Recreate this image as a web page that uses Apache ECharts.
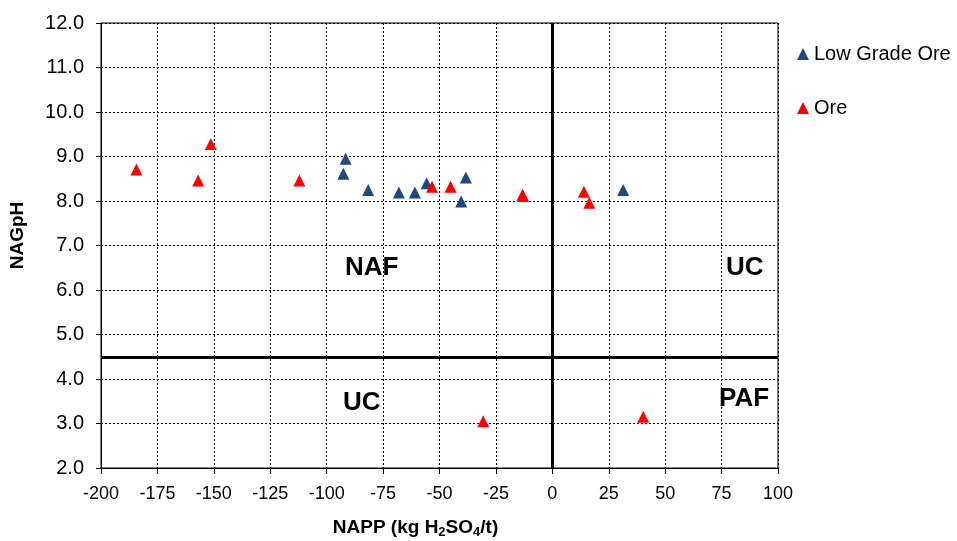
<!DOCTYPE html>
<html>
<head>
<meta charset="utf-8">
<script src="https://cdn.jsdelivr.net/npm/echarts@6/dist/echarts.min.js"></script>
<style>html,body{margin:0;padding:0;background:#fff}#c{width:957px;height:541px}</style>
</head>
<body>
<div id="c"></div>
<script>
var lowGradeNAPP = [-91.6, -92.6, -81.6, -68.0, -60.9, -55.7, -38.3, -40.4, 31.4];
var lowGradeNAG  = [8.95, 8.61, 8.25, 8.19, 8.19, 8.40, 8.53, 7.99, 8.25];
var oreNAPP = [-184.3, -151.3, -156.9, -112.1, -53.3, -45.1, -13.0, -13.2, 14.0, 16.4, -30.6, 40.3];
var oreNAG  = [8.71, 9.28, 8.46, 8.46, 8.32, 8.32, 8.11, 8.14, 8.21, 7.96, 3.05, 3.15];
var xTicks = [-200, 100, 25];
var yTicks = [2, 12, 1];
var quadrantX = 0, quadrantY = 4.5;

function pairs(xs, ys){ return xs.map(function(x,i){ return [x, ys[i]]; }); }

var chart = echarts.init(document.getElementById('c'), null, {renderer:'canvas'});
var font = 'Liberation Sans, Arial, sans-serif';
function quadText(txt, x, y){
  return {type:'text', x:x, y:y, style:{text:txt, font:'bold 26px '+font, fill:'#000', align:'left', verticalAlign:'middle'}};
}
chart.setOption({
  animation:false,
  backgroundColor:'#fff',
  grid:{left:101, right:179, top:23, bottom:73, show:true, borderColor:'#000', borderWidth:1, backgroundColor:'transparent', containLabel:false, outerBoundsMode:'none'},
  xAxis:{
    type:'value', min:xTicks[0], max:xTicks[1], interval:xTicks[2],
    name:'NAPP (kg H{sub|2}SO{sub|4}/t)', nameLocation:'middle', nameGap:49,
    nameTextStyle:{fontFamily:font, fontSize:19, fontWeight:'bold', color:'#000', padding:[0,48,0,0],
      rich:{sub:{fontSize:13, fontWeight:'bold', verticalAlign:'bottom', padding:[9,0,0,0], fontFamily:font}}},
    axisLine:{show:true, onZero:false, lineStyle:{color:'#000', width:1}},
    axisTick:{show:true, inside:false, length:6, lineStyle:{color:'#000'}},
    axisLabel:{fontFamily:font, fontSize:18, color:'#000', margin:17},
    splitLine:{show:true, lineStyle:{color:'#000', type:[2,2], width:1}}
  },
  yAxis:{
    type:'value', min:yTicks[0], max:yTicks[1], interval:yTicks[2],
    name:'NAGpH', nameLocation:'middle', nameGap:74,
    nameTextStyle:{fontFamily:font, fontSize:19, fontWeight:'bold', color:'#000', padding:[0,0,0,20]},
    axisLine:{show:true, onZero:false, lineStyle:{color:'#000', width:1}},
    axisTick:{show:true, inside:false, length:5, lineStyle:{color:'#000'}},
    axisLabel:{fontFamily:font, fontSize:20, color:'#000', margin:17, formatter:function(v){return v.toFixed(1);}},
    splitLine:{show:true, lineStyle:{color:'#000', type:[2,2], width:1}}
  },
  legend:{
    orient:'vertical', left:797, top:44, padding:0, itemGap:34, itemWidth:12, itemHeight:12,
    textStyle:{fontFamily:font, fontSize:20, color:'#000'},
    data:[{name:'Low Grade Ore', icon:'triangle'},{name:'Ore', icon:'triangle'}]
  },
  series:[
    {
      name:'Low Grade Ore', type:'scatter', symbol:'triangle', symbolSize:12,
      itemStyle:{color:'#1F497D', opacity:1},
      data:pairs(lowGradeNAPP, lowGradeNAG), z:3,
      markLine:{
        silent:true, symbol:'none', animation:false,
        label:{show:false},
        lineStyle:{color:'#000', width:3, type:'solid'},
        data:[{xAxis:quadrantX},{yAxis:quadrantY}]
      }
    },
    {
      name:'Ore', type:'scatter', symbol:'triangle', symbolSize:12,
      itemStyle:{color:'#FF0000', opacity:1},
      data:pairs(oreNAPP, oreNAG), z:4
    }
  ],
  graphic:[
    quadText('NAF', 345, 268),
    quadText('UC', 726, 268),
    quadText('UC', 343, 403),
    quadText('PAF', 719, 399)
  ]
});
</script>
</body>
</html>
